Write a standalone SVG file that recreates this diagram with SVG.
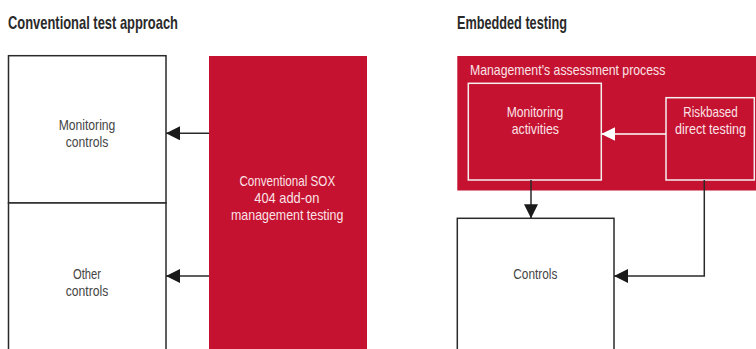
<svg xmlns="http://www.w3.org/2000/svg" width="756" height="349" viewBox="0 0 756 349">
<style>
.title{font-family:"Liberation Sans",sans-serif;font-weight:bold;font-size:19px;fill:#2a2a2a}
.lbl{font-family:"Liberation Sans",sans-serif;font-size:15px;fill:#444;text-anchor:middle}
.wlbl{font-family:"Liberation Sans",sans-serif;font-size:15px;fill:#fbe3e7;text-anchor:middle}
.box{fill:#fff;stroke:#2a2a2a;stroke-width:1.5}
.red{fill:#c41230}
.wbox{fill:#c41230;stroke:#f4f0f0;stroke-width:1.5}
.conn{fill:none;stroke:#2a2a2a;stroke-width:1.5}
.wconn{fill:none;stroke:#fff;stroke-width:1.5}
</style>
<defs>
<marker id="ah" viewBox="0 0 10 10" refX="10" refY="5" markerWidth="14" markerHeight="14" markerUnits="userSpaceOnUse" orient="auto"><path d="M0,0 L10,5 L0,10 Z" fill="#1a1a1a"/></marker>
<marker id="wah" viewBox="0 0 10 10" refX="10" refY="5" markerWidth="14" markerHeight="14" markerUnits="userSpaceOnUse" orient="auto"><path d="M0,0 L10,5 L0,10 Z" fill="#fff"/></marker>
</defs>
<text class="title" x="8" y="29" textLength="170" lengthAdjust="spacingAndGlyphs">Conventional test approach</text>
<text class="title" x="457" y="29" textLength="110" lengthAdjust="spacingAndGlyphs">Embedded testing</text>
<g id="monitoring-controls">
<rect class="box" x="8.5" y="55.7" width="157.5" height="147.3"/>
<text class="lbl" x="87" y="129.5" textLength="56.7" lengthAdjust="spacingAndGlyphs">Monitoring</text>
<text class="lbl" x="87" y="146.7" textLength="42.6" lengthAdjust="spacingAndGlyphs">controls</text>
</g>
<g id="other-controls">
<rect class="box" x="8.5" y="203" width="157.5" height="150"/>
<text class="lbl" x="87" y="279.3" textLength="28" lengthAdjust="spacingAndGlyphs">Other</text>
<text class="lbl" x="87" y="295.7" textLength="42.6" lengthAdjust="spacingAndGlyphs">controls</text>
</g>
<g id="sox-testing">
<rect class="red" x="209" y="56" width="158" height="297"/>
<text class="wlbl" x="287.3" y="186" textLength="95.7" lengthAdjust="spacingAndGlyphs">Conventional SOX</text>
<text class="wlbl" x="286.8" y="203" textLength="65" lengthAdjust="spacingAndGlyphs">404 add-on</text>
<text class="wlbl" x="287.2" y="219.5" textLength="112.3" lengthAdjust="spacingAndGlyphs">management testing</text>
</g>
<g id="assessment-process">
<rect class="red" x="457.3" y="56" width="300" height="134.5"/>
<text class="wlbl" x="470" y="75" style="text-anchor:start" textLength="195.3" lengthAdjust="spacingAndGlyphs">Management’s assessment process</text>
</g>
<g id="monitoring-activities">
<rect class="wbox" x="468.3" y="83.3" width="133" height="96.7"/>
<text class="wlbl" x="535" y="116.7" textLength="56.7" lengthAdjust="spacingAndGlyphs">Monitoring</text>
<text class="wlbl" x="535.3" y="134" textLength="47.3" lengthAdjust="spacingAndGlyphs">activities</text>
</g>
<g id="riskbased-testing">
<rect class="wbox" x="666" y="97.7" width="88.3" height="82.3"/>
<text class="wlbl" x="710.5" y="116.7" style="font-size:14.5px" textLength="54.3" lengthAdjust="spacingAndGlyphs">Riskbased</text>
<text class="wlbl" x="710.5" y="134" style="font-size:14px" textLength="71" lengthAdjust="spacingAndGlyphs">direct testing</text>
</g>
<g id="controls">
<rect class="box" x="457.3" y="218.3" width="156.7" height="135"/>
<text class="lbl" x="535.3" y="279" textLength="44" lengthAdjust="spacingAndGlyphs">Controls</text>
</g>
<g id="connectors">
<path class="conn" d="M209,133.3 H166" marker-end="url(#ah)"/>
<path class="conn" d="M209,276 H166" marker-end="url(#ah)"/>
<path class="wconn" d="M666,134 H601.3" marker-end="url(#wah)"/>
<path class="conn" d="M531,180 V218.3" marker-end="url(#ah)"/>
<path class="conn" d="M704.3,180 V276 H614" marker-end="url(#ah)"/>
</g>
</svg>
